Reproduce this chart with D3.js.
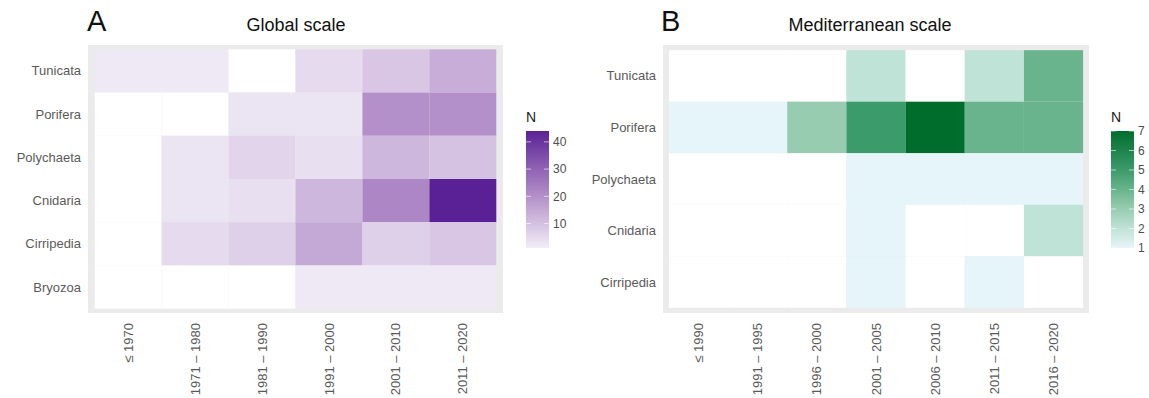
<!DOCTYPE html>
<html>
<head>
	<meta charset="utf-8">
	<script src="https://cdn.jsdelivr.net/npm/d3@7"></script>
	<style>
		body { margin: 0; background: #fff; }
		svg { font-family: "Liberation Sans", Arial, sans-serif; }
	</style>
</head>
<body>
	<div id="chart"></div>

	<script>
		// Global scale (panel A)
		var taxaGlobal = ["Tunicata", "Porifera", "Polychaeta", "Cnidaria", "Cirripedia", "Bryozoa"];
		var periodsGlobal = ["≤ 1970", "1971 – 1980", "1981 – 1990", "1991 – 2000", "2001 – 2010", "2011 – 2020"];
		// one row per taxon, 0 = no record (white tile)
		var globalN = [
			[2, 2, 0, 5, 9, 14],
			[0, 0, 3, 3, 20, 20],
			[0, 3, 6, 4, 12, 10],
			[0, 3, 4, 12, 22, 44],
			[0, 5, 7, 15, 7, 9],
			[0, 0, 0, 2, 2, 2]
		];
		var globalTicks = [10, 20, 30, 40];
		var globalRange = [1, 44];

		// Mediterranean scale (panel B)
		var taxaMed = ["Tunicata", "Porifera", "Polychaeta", "Cnidaria", "Cirripedia"];
		var periodsMed = ["≤ 1990", "1991 – 1995", "1996 – 2000", "2001 – 2005", "2006 – 2010", "2011 – 2015", "2016 – 2020"];
		var medN = [
			[0, 0, 0, 2, 0, 2, 4],
			[1, 1, 3, 5, 7, 4, 4],
			[0, 0, 0, 1, 1, 1, 1],
			[0, 0, 0, 1, 0, 0, 2],
			[0, 0, 0, 1, 0, 1, 0]
		];
		var medTicks = [1, 2, 3, 4, 5, 6, 7];
		var medRange = [1, 7];

		var width = 1149, height = 398;

		var svg = d3.select("#chart").append("svg")
			.attr("width", width)
			.attr("height", height);

		var defs = svg.append("defs");

		function drawPanel(p) {
			// spread the colour stops evenly over the value range
			var stops = p.colors.map(function(c, i) {
				return p.range[0] + i * (p.range[1] - p.range[0]) / (p.colors.length - 1);
			});
			var color = d3.scaleLinear()
				.domain(stops)
				.range(p.colors)
				.interpolate(d3.interpolateLab);

			// discrete axes with ggplot-like 0.6 expansion
			var x = d3.scaleBand()
				.domain(p.periods)
				.range([p.left, p.right])
				.paddingInner(0)
				.paddingOuter(0.1);

			var y = d3.scaleBand()
				.domain(p.taxa)
				.range([p.top, p.bottom])
				.paddingInner(0)
				.paddingOuter(0.1);

			var g = svg.append("g");

			g.append("rect")
				.attr("x", p.left)
				.attr("y", p.top)
				.attr("width", p.right - p.left)
				.attr("height", p.bottom - p.top)
				.attr("fill", "#ebebeb");

			var cells = [];
			p.values.forEach(function(row, i) {
				row.forEach(function(v, j) {
					cells.push({ taxon: p.taxa[i], period: p.periods[j], n: v });
				});
			});

			g.selectAll("rect.tile")
				.data(cells)
				.enter().append("rect")
				.attr("class", "tile")
				.attr("x", function(d) { return x(d.period); })
				.attr("y", function(d) { return y(d.taxon); })
				.attr("width", x.bandwidth())
				.attr("height", y.bandwidth())
				.attr("fill", function(d) { return d.n > 0 ? color(d.n) : "#ffffff"; });

			// y labels
			g.selectAll("text.ylab")
				.data(p.taxa)
				.enter().append("text")
				.attr("class", "ylab")
				.attr("x", p.left - 7)
				.attr("y", function(d) { return y(d) + y.bandwidth() / 2; })
				.attr("dy", "0.35em")
				.attr("text-anchor", "end")
				.attr("font-size", 13)
				.attr("fill", "#5a5a5a")
				.text(function(d) { return d; });

			// x labels, rotated
			g.selectAll("text.xlab")
				.data(p.periods)
				.enter().append("text")
				.attr("class", "xlab")
				.attr("transform", function(d) {
					return "translate(" + (x(d) + x.bandwidth() / 2) + "," + (p.bottom + 10) + ") rotate(-90)";
				})
				.attr("dy", "0.35em")
				.attr("text-anchor", "end")
				.attr("font-size", 13)
				.attr("fill", "#5a5a5a")
				.text(function(d) { return d; });

			// title and tag
			svg.append("text")
				.attr("x", p.titleX)
				.attr("y", 31)
				.attr("text-anchor", "middle")
				.attr("font-size", 18)
				.attr("fill", "#111")
				.text(p.title);

			svg.append("text")
				.attr("x", p.tagX)
				.attr("y", 31)
				.attr("font-size", 29)
				.attr("fill", "#111")
				.text(p.tag);

			// colour bar legend
			var barTop = 131, barBottom = 248, barW = 23;
			var ly = d3.scaleLinear().domain(p.range).range([barBottom, barTop]);

			var grad = defs.append("linearGradient")
				.attr("id", "grad" + p.tag)
				.attr("x1", 0).attr("x2", 0)
				.attr("y1", 1).attr("y2", 0);
			grad.selectAll("stop")
				.data(d3.range(0, 1.0001, 0.05))
				.enter().append("stop")
				.attr("offset", function(t) { return t; })
				.attr("stop-color", function(t) { return color(p.range[0] + t * (p.range[1] - p.range[0])); });

			var leg = svg.append("g");
			leg.append("text")
				.attr("x", p.legendX)
				.attr("y", 122)
				.attr("font-size", 14)
				.attr("fill", "#222")
				.text("N");

			leg.append("rect")
				.attr("x", p.legendX)
				.attr("y", barTop)
				.attr("width", barW)
				.attr("height", barBottom - barTop)
				.attr("fill", "url(#grad" + p.tag + ")");

			var tk = leg.selectAll("g.tick")
				.data(p.ticks)
				.enter().append("g")
				.attr("class", "tick")
				.attr("transform", function(d) { return "translate(0," + ly(d) + ")"; });

			tk.append("line")
				.attr("x1", p.legendX).attr("x2", p.legendX + 5)
				.attr("stroke", "#fff").attr("stroke-opacity", 0.6);
			tk.append("line")
				.attr("x1", p.legendX + barW - 5).attr("x2", p.legendX + barW)
				.attr("stroke", "#fff").attr("stroke-opacity", 0.6);
			tk.append("text")
				.attr("x", p.legendX + barW + 4)
				.attr("dy", "0.35em")
				.attr("font-size", 12)
				.attr("fill", "#4d4d4d")
				.text(function(d) { return d; });
		}

		drawPanel({
			tag: "A", tagX: 87, title: "Global scale", titleX: 296,
			taxa: taxaGlobal, periods: periodsGlobal, values: globalN,
			range: globalRange, ticks: globalTicks,
			colors: ["#f2eef7", "#ab84c4", "#5a2196"],
			left: 88, right: 503, top: 45, bottom: 313,
			legendX: 526
		});

		drawPanel({
			tag: "B", tagX: 661, title: "Mediterranean scale", titleX: 870,
			taxa: taxaMed, periods: periodsMed, values: medN,
			range: medRange, ticks: medTicks,
			colors: ["#e6f5f9", "#c0e3d8", "#98ccb1", "#69b48c", "#3c9b6b", "#1c844c", "#006d2c"],
			left: 663, right: 1089, top: 45, bottom: 313,
			legendX: 1111
		});
	</script>
</body>
</html>
